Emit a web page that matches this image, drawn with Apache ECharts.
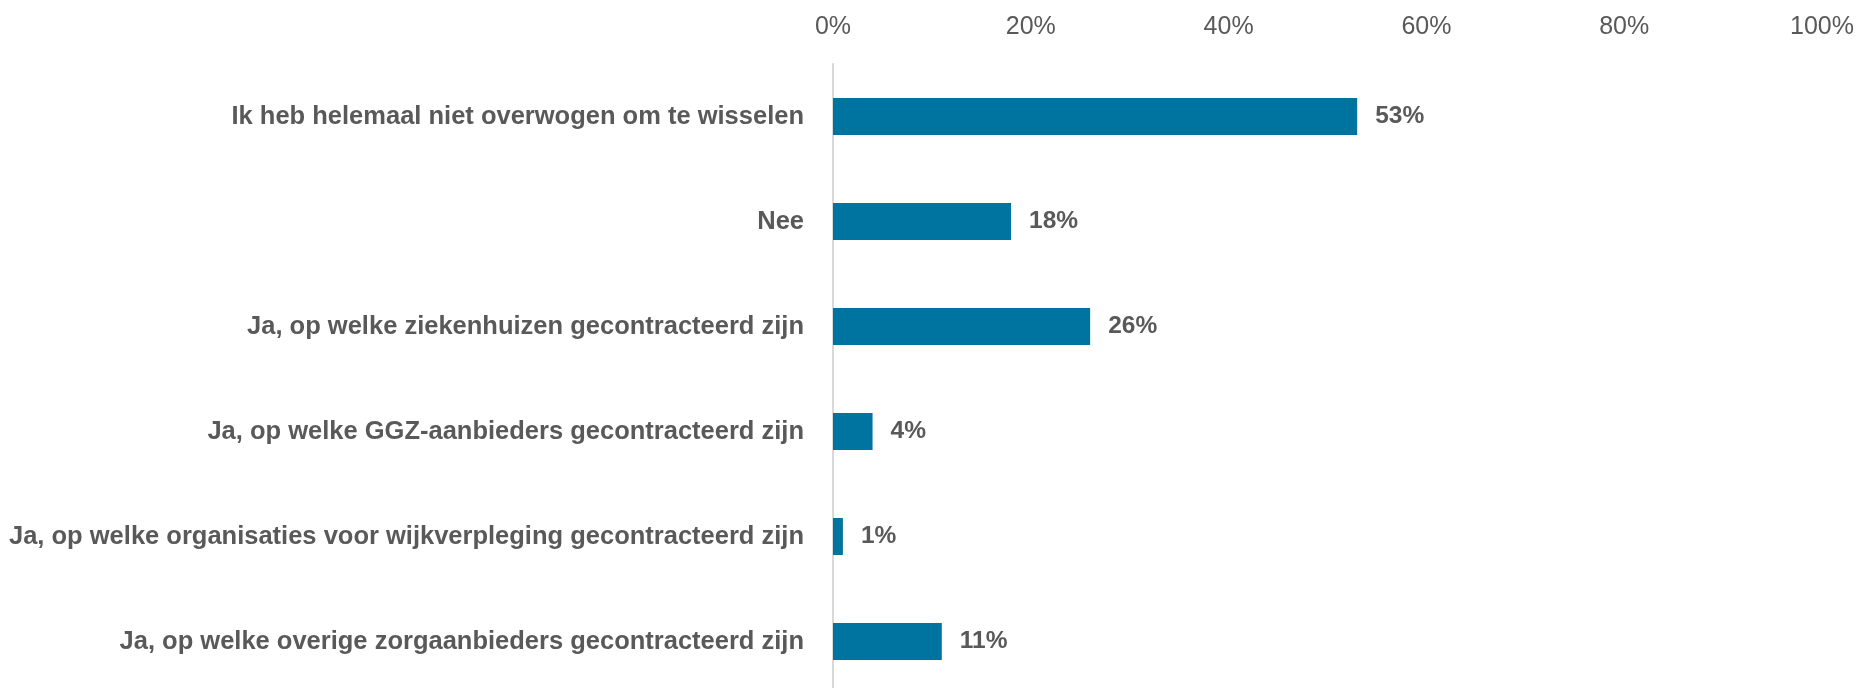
<!DOCTYPE html>
<html>
<head>
<meta charset="utf-8">
<script src="https://cdn.jsdelivr.net/npm/echarts@6/dist/echarts.min.js"></script>
<style>html,body{margin:0;padding:0;background:#fff}#c{width:1859px;height:688px}</style>
</head>
<body>
<div id="c"></div>
<script>
const categories = [
  "Ik heb helemaal niet overwogen om te wisselen",
  "Nee",
  "Ja, op welke ziekenhuizen gecontracteerd zijn",
  "Ja, op welke GGZ-aanbieders gecontracteerd zijn",
  "Ja, op welke organisaties voor wijkverpleging gecontracteerd zijn",
  "Ja, op welke overige zorgaanbieders gecontracteerd zijn"
];
const values = [53, 18, 26, 4, 1, 11];
const xTicks = [0, 20, 40, 60, 80, 100];

const chart = echarts.init(document.getElementById('c'), null, {renderer: 'canvas'});
const font = '"Liberation Sans Narrow", "Liberation Sans", sans-serif';
chart.setOption({
  animation: false,
  grid: {left: 833, width: 989, top: 64, height: 630, containLabel: false, outerBoundsMode: 'none'},
  xAxis: {
    type: 'value', position: 'top', min: xTicks[0], max: xTicks[xTicks.length - 1], interval: 20,
    axisLine: {show: false}, axisTick: {show: false}, splitLine: {show: false},
    axisLabel: {formatter: '{value}%', color: '#595959', fontSize: 25, fontFamily: font, margin: 24}
  },
  yAxis: {
    type: 'category', data: categories, inverse: true,
    axisLine: {show: true, lineStyle: {color: '#D9D9D9', width: 2}},
    axisTick: {show: false},
    axisLabel: {color: '#595959', fontSize: 25.5, fontWeight: 'bold', fontFamily: font, margin: 29}
  },
  series: [{
    type: 'bar', data: values, barWidth: 37,
    itemStyle: {color: '#0074A1'},
    label: {show: true, position: 'right', distance: 18, formatter: '{c}%',
      color: '#595959', fontSize: 24.5, fontWeight: 'bold', fontFamily: font}
  }]
});
</script>
</body>
</html>
